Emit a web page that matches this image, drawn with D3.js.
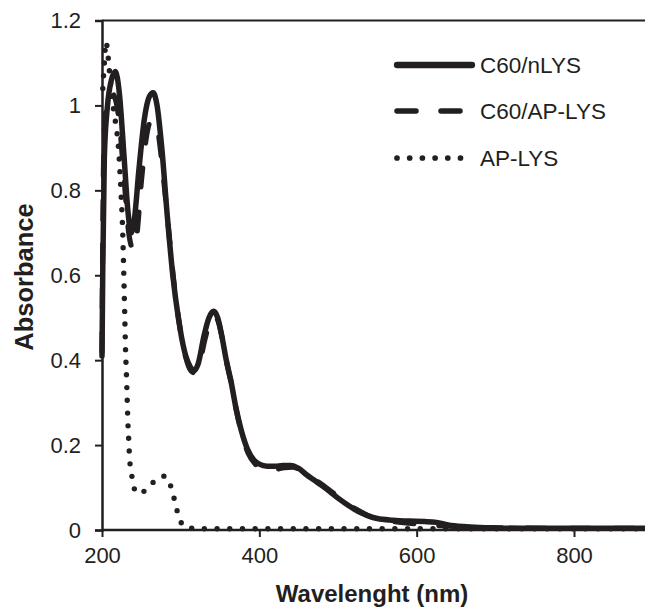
<!DOCTYPE html>
<html>
<head>
<meta charset="utf-8">
<script src="https://cdn.jsdelivr.net/npm/d3@7"></script>
<style>
  html, body { margin: 0; padding: 0; background: #fff; }
  svg { display: block; }
  text { font-family: "Liberation Sans", Arial, sans-serif; fill: #231f20; }
</style>
</head>
<body>
<script>
// ---- Data ----
const seriesNames = ["C60/nLYS", "C60/AP-LYS", "AP-LYS"];

const nLYS_wl = [200, 201, 203, 207, 212, 217, 222, 228, 233, 237, 241, 247, 254, 260, 265, 270, 276, 283, 290, 297, 305, 312, 317, 322, 330, 336, 342, 347, 352, 358, 364, 370, 377, 385, 393, 400, 410, 420, 430, 440, 450, 460, 470, 480, 490, 500, 510, 520, 530, 540, 550, 570, 590, 610, 625, 640, 660, 680, 700, 750, 800, 850, 890];
const nLYS_abs = [0.41, 0.62, 0.88, 1.0, 1.06, 1.08, 1.03, 0.88, 0.75, 0.70, 0.73, 0.85, 0.97, 1.02, 1.03, 1.0, 0.90, 0.74, 0.60, 0.50, 0.42, 0.385, 0.375, 0.39, 0.46, 0.50, 0.515, 0.50, 0.46, 0.40, 0.35, 0.29, 0.235, 0.19, 0.165, 0.155, 0.15, 0.15, 0.152, 0.152, 0.145, 0.13, 0.117, 0.104, 0.09, 0.075, 0.062, 0.05, 0.04, 0.032, 0.027, 0.023, 0.021, 0.02, 0.018, 0.012, 0.008, 0.006, 0.005, 0.004, 0.004, 0.004, 0.004];

const apLYSc60_wl = [200, 201, 203, 207, 212, 216, 222, 228, 234, 240, 244, 250, 256, 261, 266, 271, 277, 284, 291, 298, 306, 313, 318, 323, 331, 337, 343, 348, 353, 359, 365, 371, 378, 386, 395, 403, 412, 422, 432, 442, 452, 462, 472, 482, 492, 502, 512, 522, 532, 542, 552, 570, 590, 610, 630, 660, 700, 800, 890];
const apLYSc60_abs = [0.42, 0.70, 0.94, 1.01, 1.03, 1.02, 0.96, 0.83, 0.70, 0.66, 0.69, 0.82, 0.92, 0.96, 0.965, 0.94, 0.85, 0.72, 0.59, 0.49, 0.41, 0.375, 0.37, 0.385, 0.45, 0.49, 0.505, 0.49, 0.45, 0.39, 0.34, 0.28, 0.225, 0.18, 0.155, 0.142, 0.14, 0.143, 0.147, 0.148, 0.142, 0.13, 0.117, 0.104, 0.09, 0.076, 0.062, 0.05, 0.04, 0.031, 0.025, 0.02, 0.016, 0.013, 0.01, 0.007, 0.005, 0.004, 0.004];

const apLYS_wl = [201, 203, 205, 207, 209, 212, 215.5, 218, 221, 224, 226, 228, 229, 230, 231, 232, 233, 234.3, 235, 237, 239.5, 244, 250, 256, 262, 268, 275, 280, 284, 288, 292, 296, 300, 305, 314, 330, 400, 500, 600, 700, 800, 890];
const apLYS_abs = [1.04, 1.10, 1.15, 1.13, 1.09, 1.03, 0.98, 0.95, 0.90, 0.80, 0.72, 0.58, 0.50, 0.42, 0.37, 0.31, 0.25, 0.20, 0.17, 0.14, 0.11, 0.087, 0.088, 0.095, 0.107, 0.117, 0.125, 0.127, 0.118, 0.10, 0.072, 0.042, 0.02, 0.008, 0.004, 0.003, 0.003, 0.003, 0.003, 0.003, 0.003, 0.003];

const xTicks = [200, 400, 600, 800];
const yTicks = [0, 0.2, 0.4, 0.6, 0.8, 1, 1.2];
const xTitle = "Wavelenght (nm)";
const yTitle = "Absorbance";

// ---- Layout ----
const W = 645, H = 608;
const ink = "#231f20";
const svg = d3.select("body").append("svg").attr("width", W).attr("height", H);

const x = d3.scaleLinear().domain([200, 800]).range([102, 574]);
const y = d3.scaleLinear().domain([0, 1.2]).range([530, 20.5]);

// top border line
svg.append("line")
  .attr("x1", x(200)).attr("x2", W)
  .attr("y1", y(1.2)).attr("y2", y(1.2))
  .attr("stroke", ink).attr("stroke-width", 2);

// Y axis
const yAxis = d3.axisLeft(y).tickValues(yTicks).tickSize(7).tickPadding(14)
  .tickFormat(d => d3.format("")(d));
const gy = svg.append("g").attr("transform", `translate(${x(200)},0)`).call(yAxis);
gy.select(".domain").attr("stroke", ink).attr("stroke-width", 2.5);
gy.selectAll(".tick line").attr("stroke", ink).attr("stroke-width", 2);
gy.selectAll(".tick text").attr("font-size", 22).attr("fill", ink)
  .style("font-family", '"Liberation Sans", Arial, sans-serif');

// X axis (extends past the visible edge)
const xAxis = d3.axisBottom(x).tickValues(xTicks).tickSize(7).tickSizeOuter(0).tickPadding(10);
const gx = svg.append("g").attr("transform", `translate(0,${y(0)})`).call(xAxis);
gx.select(".domain").attr("d", `M${x(200)},0H${W + 20}`).attr("stroke", ink).attr("stroke-width", 2.5);
gx.selectAll(".tick line").attr("stroke", ink).attr("stroke-width", 2);
gx.selectAll(".tick text").attr("font-size", 22).attr("fill", ink)
  .style("font-family", '"Liberation Sans", Arial, sans-serif');

// Axis titles
svg.append("text").attr("x", 372).attr("y", 602).attr("text-anchor", "middle")
  .attr("font-size", 24).attr("font-weight", "bold").text(xTitle);
svg.append("text").attr("transform", "translate(33,277) rotate(-90)").attr("text-anchor", "middle")
  .attr("font-size", 25.5).attr("font-weight", "bold").text(yTitle);

// Lines
const line = d3.line().x(d => x(d[0])).y(d => y(d[1])).curve(d3.curveMonotoneX);
const zip = (a, b) => a.map((v, i) => [v, b[i]]);

const styles = [
  { width: 5.5, dash: null, cap: "round" },
  { width: 5.2, dash: "19 25", cap: "round" },
  { width: 5.4, dash: "0 12.7", cap: "round" }
];
const data = [zip(nLYS_wl, nLYS_abs), zip(apLYSc60_wl, apLYSc60_abs), zip(apLYS_wl, apLYS_abs)];

data.forEach((d, i) => {
  svg.append("path").datum(d).attr("d", line)
    .attr("fill", "none").attr("stroke", ink)
    .attr("stroke-width", styles[i].width)
    .attr("stroke-linecap", styles[i].cap)
    .attr("stroke-linejoin", "round")
    .attr("stroke-dasharray", styles[i].dash);
});

// Legend
const legY = [65, 111, 158];
const legend = svg.append("g");
seriesNames.forEach((name, i) => {
  const s = styles[i];
  legend.append("line")
    .attr("x1", 397).attr("x2", i === 1 ? 463 : (i === 2 ? 462 : 472))
    .attr("y1", legY[i]).attr("y2", legY[i])
    .attr("stroke", ink).attr("stroke-width", s.width + (i === 0 ? 0.8 : 0.3))
    .attr("stroke-linecap", s.cap)
    .attr("stroke-dasharray", s.dash);
  legend.append("text").attr("x", 480).attr("y", legY[i]).attr("dy", "0.36em")
    .attr("font-size", 22.5).text(name);
});
</script>
</body>
</html>
